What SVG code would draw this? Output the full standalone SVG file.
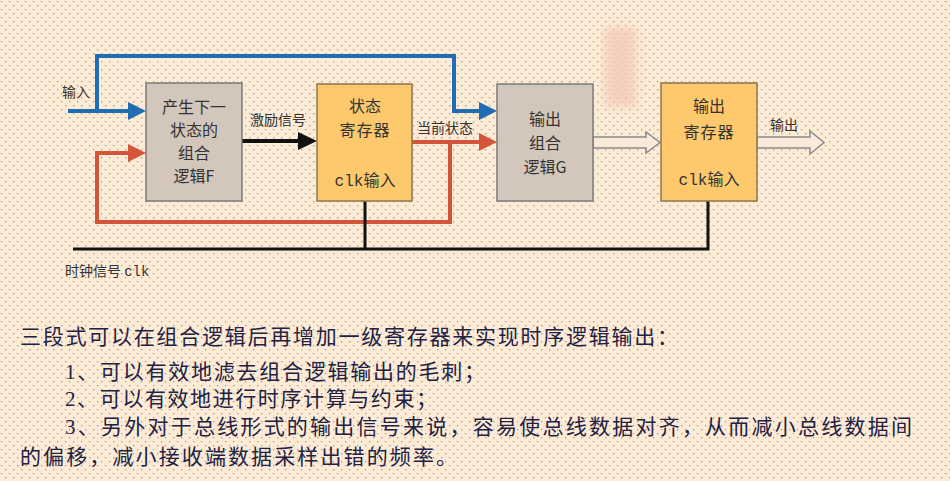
<svg xmlns="http://www.w3.org/2000/svg" width="950" height="481" viewBox="0 0 950 481">
<defs>
<pattern id="dots" x="0" y="0" width="8" height="8" patternUnits="userSpaceOnUse">
<rect x="1" y="1" width="1.3" height="1.3" fill="#8fa597"/>
<rect x="5" y="5" width="1.3" height="1.3" fill="#8fa597"/>
</pattern>
<filter id="blur" x="-50%" y="-50%" width="200%" height="200%"><feGaussianBlur stdDeviation="4"/></filter>
<style>
.lbl{font-family:"Noto Sans CJK SC","Liberation Sans",sans-serif;fill:#333;}
.box{font-size:16px;text-anchor:middle;}
.mono{font-family:"Liberation Mono",monospace;}
.small{font-size:14px;}
.body{font-family:"Liberation Serif","Noto Sans CJK SC",serif;font-size:21px;fill:#222244;}
.gray{fill:#d3c6ba;stroke:#7a7a7a;stroke-width:1.5;}
.reg{fill:#fdc96c;stroke:#8a7650;stroke-width:1.5;}
.blue{stroke:#1f6db3;stroke-width:4;fill:none;}
.red{stroke:#d4563a;stroke-width:4;fill:none;}
.blk{stroke:#111;stroke-width:3;fill:none;}
.hollow{fill:#fbe9da;stroke:#8a8a8a;stroke-width:1.5;}
</style>
</defs>
<rect width="950" height="481" fill="#fdebd6"/>
<rect width="950" height="481" fill="url(#dots)"/>
<rect x="605" y="28" width="31" height="78" fill="#f3c8b6" opacity="0.75" filter="url(#blur)"/>

<g id="connectors">
<polyline class="blue" points="68,111 130,111"/>
<polyline class="blue" points="97,111 97,56 454,56 454,111 481,111"/>
<polygon points="128,102 146,111 128,120" fill="#1f6db3"/>
<polygon points="479,102 497,111 479,120" fill="#1f6db3"/>
<polyline class="red" points="412,142 481,142"/>
<polyline class="red" points="450,142 450,222 97,222 97,153 130,153"/>
<polygon points="128,144 146,153 128,162" fill="#d4563a"/>
<polygon points="479,133 497,142 479,151" fill="#d4563a"/>
<line x1="242" y1="141" x2="300" y2="141" stroke="#111" stroke-width="4"/>
<polygon points="298,132 317,141 298,150" fill="#111"/>
<polyline class="blk" points="73,249 708,249 708,201"/>
<line class="blk" x1="365" y1="201" x2="365" y2="249"/>
<polygon class="hollow" points="593,137 646,137 646,132 660,142.5 646,153 646,148 593,148"/>
<polygon class="hollow" points="757,137 810,137 810,131 824,142.5 810,154 810,148 757,148"/>
</g>

<g id="node-F">
<rect class="gray" x="146" y="83" width="96" height="118"/>
<text class="lbl box" x="194" y="113">产生下一</text>
<text class="lbl box" x="194" y="136">状态的</text>
<text class="lbl box" x="194" y="159">组合</text>
<text class="lbl box" x="194" y="182">逻辑F</text>
</g>
<g id="node-state-reg">
<rect class="reg" x="317" y="84" width="95" height="117"/>
<text class="lbl box" x="365" y="112">状态</text>
<text class="lbl box" x="365" y="136" letter-spacing="1">寄存器</text>
<text class="lbl box" x="365" y="186" font-size="15"><tspan class="mono">clk</tspan>输入</text>
</g>
<g id="node-G">
<rect class="gray" x="497" y="84" width="96" height="117"/>
<text class="lbl box" x="545" y="125">输出</text>
<text class="lbl box" x="545" y="149">组合</text>
<text class="lbl box" x="545" y="173">逻辑G</text>
</g>
<g id="node-out-reg">
<rect class="reg" x="661" y="83" width="96" height="118"/>
<text class="lbl box" x="709" y="112">输出</text>
<text class="lbl box" x="709" y="138" letter-spacing="1">寄存器</text>
<text class="lbl box" x="709" y="185" font-size="15"><tspan class="mono">clk</tspan>输入</text>
</g>

<g id="labels">
<text class="lbl small" x="62" y="97">输入</text>
<text class="lbl small" x="250" y="125">激励信号</text>
<text class="lbl small" x="417" y="133">当前状态</text>
<text class="lbl small" x="770" y="130">输出</text>
<text class="lbl small" x="65" y="276">时钟信号 <tspan class="mono">clk</tspan></text>
</g>

<g id="body-text">
<text class="body" x="20" y="344" textLength="658" lengthAdjust="spacing">三段式可以在组合逻辑后再增加一级寄存器来实现时序逻辑输出：</text>
<text class="body" x="65" y="379" textLength="420" lengthAdjust="spacing">1、可以有效地滤去组合逻辑输出的毛刺；</text>
<text class="body" x="65" y="406" textLength="372" lengthAdjust="spacing">2、可以有效地进行时序计算与约束；</text>
<text class="body" x="65" y="434" textLength="847" lengthAdjust="spacing">3、另外对于总线形式的输出信号来说，容易使总线数据对齐，从而减小总线数据间</text>
<text class="body" x="20" y="464" textLength="437" lengthAdjust="spacing">的偏移，减小接收端数据采样出错的频率。</text>
</g>
</svg>
